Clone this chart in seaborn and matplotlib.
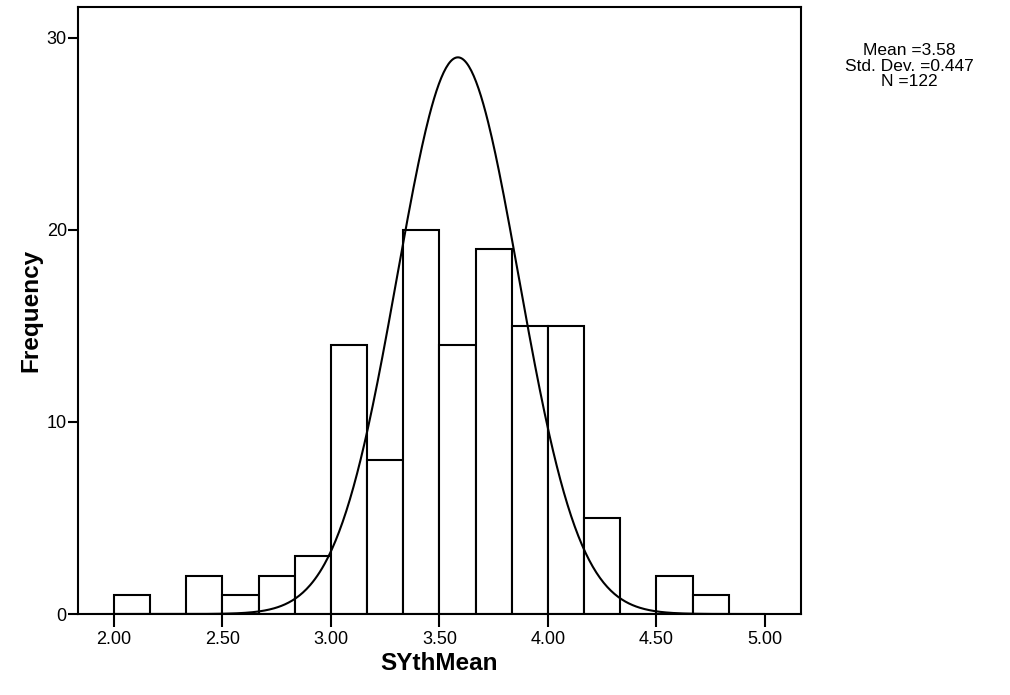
import numpy as np
import pandas as pd
import matplotlib
matplotlib.use("Agg")
import matplotlib.pyplot as plt
import seaborn as sns

# ---- data ----
bin_edges = [2.0, 2.1667, 2.3333, 2.5, 2.6667, 2.8333, 3.0, 3.1667, 3.3333, 3.5,
             3.6667, 3.8333, 4.0, 4.1667, 4.3333, 4.5, 4.6667, 4.8333, 5.0]
counts = [1, 0, 2, 1, 2, 3, 14, 8, 20, 14, 19, 15, 15, 5, 0, 2, 1, 0]
x_ticks = [2.0, 2.5, 3.0, 3.5, 4.0, 4.5, 5.0]
x_tick_labels = ["2.00", "2.50", "3.00", "3.50", "4.00", "4.50", "5.00"]
y_ticks = [0, 10, 20, 30]
stat_mean = 3.58
stat_sd = 0.447
stat_n = 122
curve_mean = 3.585   # centre of the drawn normal curve
curve_sd = 0.28      # spread of the drawn normal curve as it appears on the axis

sns.set_theme(style="white")
plt.rcParams['font.family'] = ['Liberation Sans', 'DejaVu Sans']
plt.rcParams['text.color'] = 'black'
plt.rcParams['axes.labelcolor'] = 'black'
plt.rcParams['xtick.color'] = 'black'
plt.rcParams['ytick.color'] = 'black'

fig = plt.figure(figsize=(10.1, 6.95), dpi=100)
ax = fig.add_axes([0.0772, 0.1165, 0.7158, 0.8735])

edges = np.array(bin_edges)
centers = (edges[:-1] + edges[1:]) / 2
df = pd.DataFrame({"SYthMean": centers, "w": counts})
sns.histplot(data=df, x="SYthMean", weights="w", bins=list(bin_edges), ax=ax,
             color="white", edgecolor="black", linewidth=1.5, alpha=1)

bw = edges[1] - edges[0]
xs = np.linspace(1.84, 5.16, 600)
ys = sum(counts) * bw / (curve_sd * np.sqrt(2 * np.pi)) * np.exp(-0.5 * ((xs - curve_mean) / curve_sd) ** 2)
sns.lineplot(x=xs, y=ys, ax=ax, color="black", linewidth=1.5)

ax.set_xlim(1.834, 5.166)
ax.set_ylim(0, 31.6)
ax.set_xticks(x_ticks)
ax.set_xticklabels(x_tick_labels)
ax.set_yticks(y_ticks)
ax.set_yticklabels([str(v) for v in y_ticks])
ax.tick_params(axis="x", direction="out", length=9, width=1.5, color="black",
               labelsize=13, pad=3, bottom=True, labelcolor="black")
ax.tick_params(axis="y", direction="out", length=7, width=1.5, color="black",
               labelsize=13, pad=1, left=True, labelcolor="black")
for s in ax.spines.values():
    s.set_color("black")
    s.set_linewidth(1.5)
    s.set_visible(True)
ax.grid(False)
ax.set_xlabel("SYthMean", fontsize=17.5, fontweight="bold", labelpad=3, color="black")
ax.set_ylabel("Frequency", fontsize=17.5, fontweight="bold", labelpad=3, color="black")

fig.text(0.9, 0.905, f"Mean ={stat_mean:.2f}\nStd. Dev. ={stat_sd:.3f}\nN ={stat_n}",
         ha="center", va="center", fontsize=12.5, linespacing=1.05, color="black")

fig.savefig("out.png", dpi=100)
